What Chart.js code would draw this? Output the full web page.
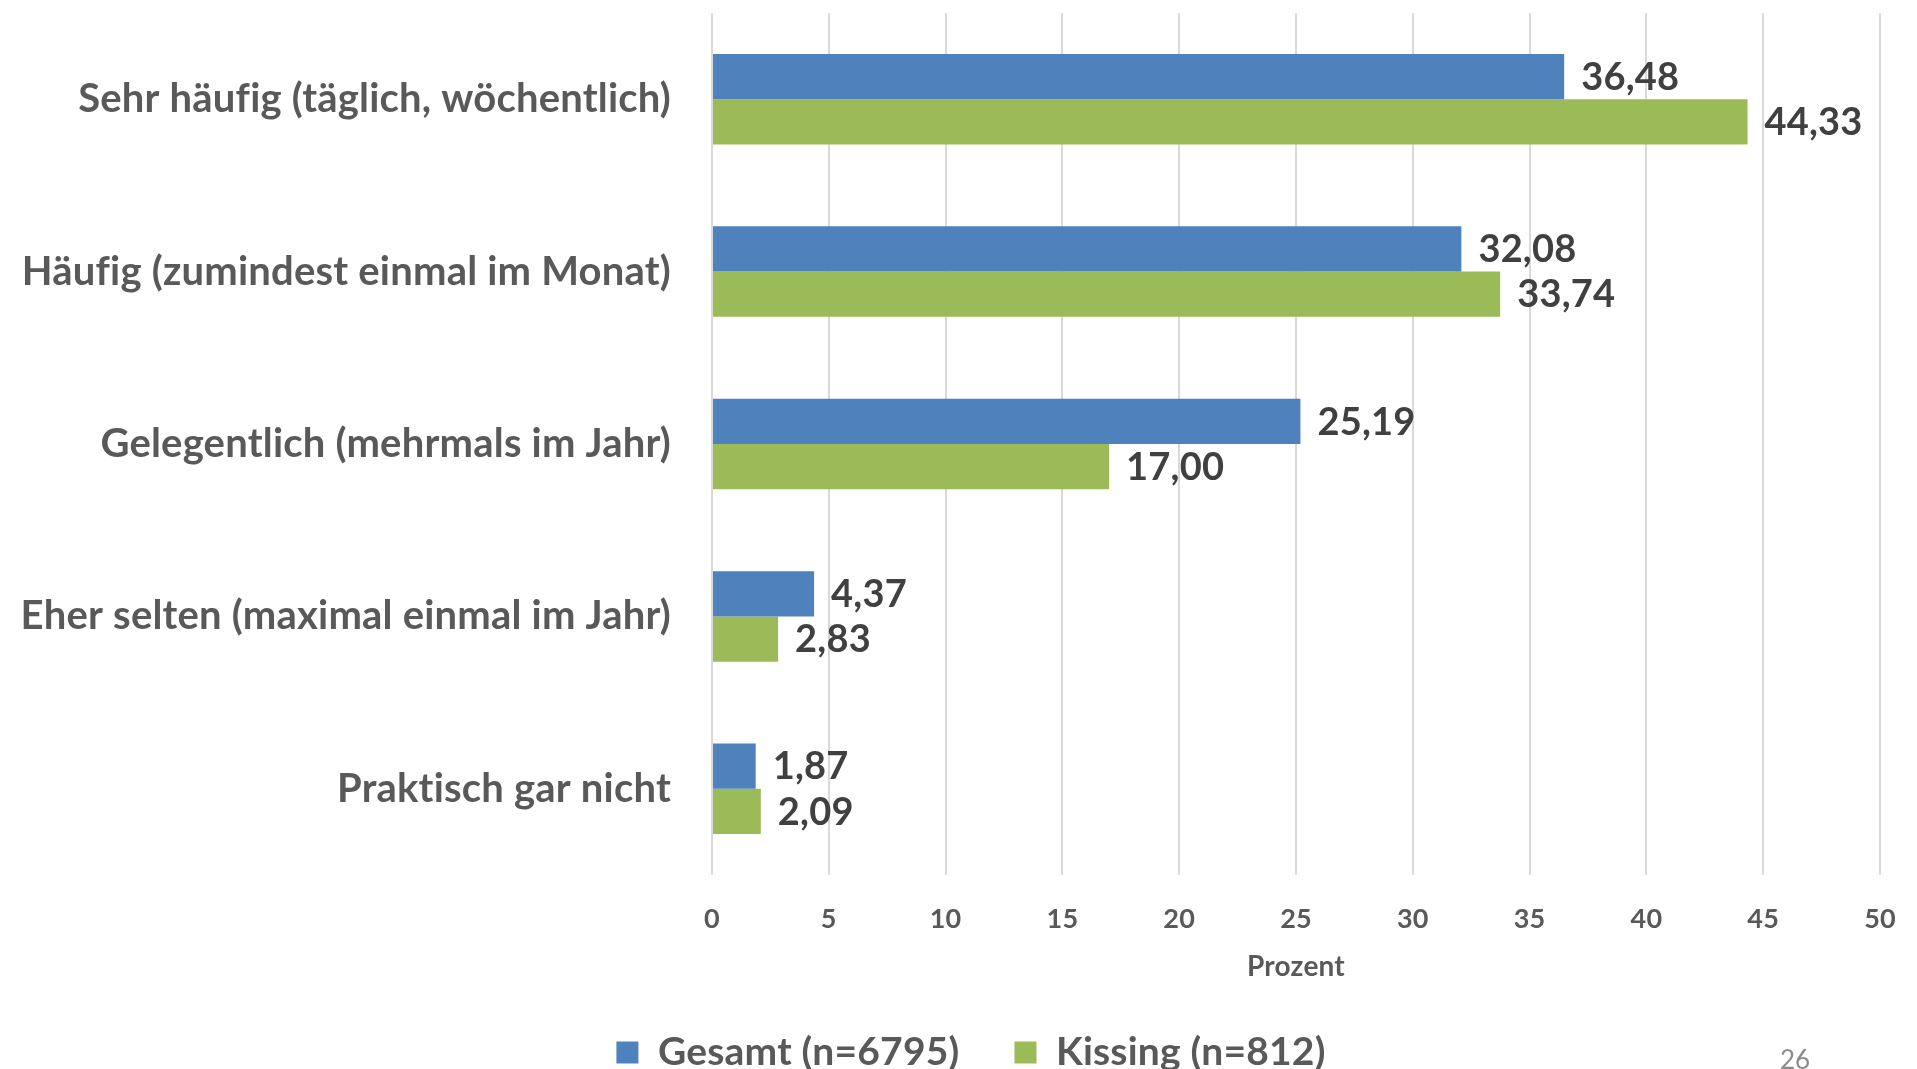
<!DOCTYPE html>
<html>
<head>
<meta charset="utf-8">
<script src="https://cdn.jsdelivr.net/npm/chart.js@4.4.1/dist/chart.umd.min.js"></script>
<style>
  html, body { margin: 0; padding: 0; background: #ffffff; overflow: hidden; width: 1917px; height: 1069px; }
  #wrap { position: absolute; left: 0; top: 0; width: 1917px; height: 1082px; }
  #page { position: absolute; left: 1780px; top: 1046px; font-family: Lato, sans-serif; font-size: 26px; line-height: 1; color: #8c8c8c; }
</style>
</head>
<body>
<div id="wrap"><canvas id="c" width="1917" height="1082"></canvas></div>
<div id="page">26</div>
<script>
const categories = [
  'Sehr häufig (täglich, wöchentlich)',
  'Häufig (zumindest einmal im Monat)',
  'Gelegentlich (mehrmals im Jahr)',
  'Eher selten (maximal einmal im Jahr)',
  'Praktisch gar nicht'
];
const gesamtValues = [36.48, 32.08, 25.19, 4.37, 1.87];
const kissingValues = [44.33, 33.74, 17.00, 2.83, 2.09];
const seriesNames = ['Gesamt (n=6795)', 'Kissing (n=812)'];
const axisTitle = 'Prozent';
const xMin = 0, xMax = 50, xStep = 5;

const FONT = 'Lato, "Open Sans", sans-serif';

const noLigatures = {
  id: 'noLigatures',
  beforeDraw(chart) { chart.ctx.letterSpacing = '0.2px'; }
};

const legendShift = {
  id: 'legendShift',
  afterLayout(chart) {
    if (chart.legend) { chart.legend.left += 28; chart.legend.right += 28; }
  }
};

const valueLabels = {
  id: 'valueLabels',
  afterDatasetsDraw(chart) {
    const ctx = chart.ctx;
    ctx.save();
    ctx.font = 'bold 38px ' + FONT;
    ctx.fillStyle = '#404040';
    ctx.textAlign = 'left';
    ctx.textBaseline = 'middle';
    chart.data.datasets.forEach((ds, di) => {
      const meta = chart.getDatasetMeta(di);
      meta.data.forEach((bar, i) => {
        const v = ds.data[i];
        ctx.fillText(v.toFixed(2).replace('.', ','), bar.x + 17, bar.y + 1);
      });
    });
    ctx.restore();
  }
};

new Chart(document.getElementById('c'), {
  type: 'bar',
  data: {
    labels: categories,
    datasets: [
      { label: seriesNames[0], data: gesamtValues, backgroundColor: '#4F81BD', borderWidth: 0 },
      { label: seriesNames[1], data: kissingValues, backgroundColor: '#9BBB59', borderWidth: 0 }
    ]
  },
  options: {
    indexAxis: 'y',
    responsive: false,
    animation: false,
    devicePixelRatio: 1,
    layout: { padding: { left: 0, right: 37, top: 13, bottom: 0 } },
    datasets: { bar: { categoryPercentage: 0.525, barPercentage: 1.0 } },
    scales: {
      x: {
        min: xMin, max: xMax,
        afterFit(scale) { scale.height = 103; scale.paddingLeft = 0; scale.paddingRight = 0; },
        ticks: { stepSize: xStep, padding: 28, color: '#595959', font: { family: FONT, size: 27, weight: 'bold' } },
        grid: { color: '#d9d9d9', lineWidth: 2, drawTicks: false },
        border: { display: false },
        title: { display: true, text: axisTitle, color: '#595959', font: { family: FONT, size: 28, weight: 'bold' }, padding: { top: 0, bottom: -6 } }
      },
      y: {
        afterFit(scale) { scale.width = 712; scale.paddingTop = 0; scale.paddingBottom = 0; },
        ticks: { padding: 41, color: '#595959', font: { family: FONT, size: 40, weight: 'bold' } },
        grid: { display: false, drawTicks: false },
        border: { display: false }
      }
    },
    plugins: {
      legend: {
        position: 'bottom',
        labels: { boxWidth: 22, boxHeight: 22, padding: 55, color: '#595959', font: { family: FONT, size: 39, weight: 'bold' } }
      },
      tooltip: { enabled: false }
    }
  },
  plugins: [noLigatures, legendShift, valueLabels]
});
</script>
</body>
</html>
